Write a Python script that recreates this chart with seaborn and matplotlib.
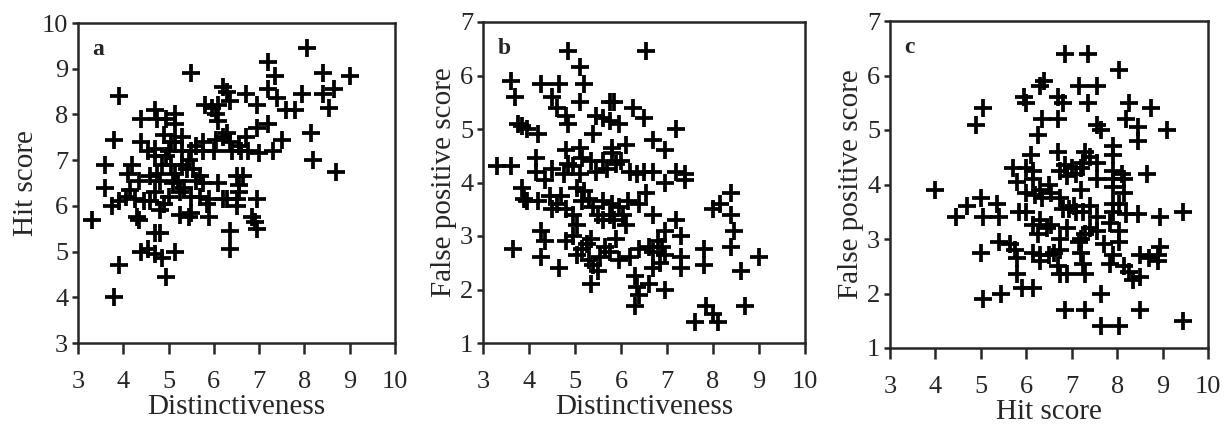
import numpy as np
import pandas as pd
import seaborn as sns
import matplotlib.pyplot as plt

# panel a: distinctiveness vs hit score
a_dist = [3.3, 3.8, 3.9, 3.9, 3.8, 3.6, 3.6, 3.75, 3.9, 4.05, 4.1, 4.2, 4.15, 4.3, 4.35,
          4.4, 4.4, 4.35, 4.45, 4.4, 4.55, 4.7, 4.8, 4.7, 4.85, 4.95, 5.15, 4.7, 4.75, 4.95,
          5.15, 5.15, 4.9, 4.55, 4.7, 4.7, 4.95, 4.85, 5.05, 5.15, 5.3, 5.3, 5.5, 5.6, 5.75,
          5.75, 6.0, 6.05, 6.2, 6.3, 6.35, 6.4, 6.55, 6.7, 6.75, 7.0, 7.3, 4.6, 4.75, 4.8,
          4.7, 4.6, 4.8, 4.9, 5.0, 5.1, 5.2, 5.15, 5.3, 5.4, 5.45, 5.55, 5.6, 5.7, 5.75,
          5.35, 5.25, 5.5, 5.7, 5.9, 5.85, 5.9, 5.25, 5.45, 5.5, 6.1, 6.3, 6.5, 6.55, 6.5,
          6.65, 6.55, 6.5, 6.95, 6.85, 6.9, 6.95, 6.35, 6.35, 5.5, 5.8, 5.95, 6.1, 6.05, 6.1,
          6.2, 6.3, 6.35, 6.7, 6.95, 6.95, 7.2, 7.35, 7.2, 7.2, 7.4, 7.5, 7.6, 7.8, 7.95,
          8.05, 8.15, 8.2, 8.4, 8.4, 8.55, 8.65, 8.7, 9.0, 4.25, 5.0, 6.6, 5.05, 6.2]
a_hit = [5.7, 4.0, 4.7, 8.4, 7.45, 6.9, 6.4, 6.0, 6.1, 6.2, 6.7, 6.9, 6.35, 5.75, 5.7,
         7.9, 7.4, 6.55, 6.1, 5.0, 5.05, 5.4, 5.4, 4.95, 4.85, 4.45, 5.0, 8.1, 7.9, 7.9,
         8.0, 7.8, 7.55, 7.2, 7.25, 7.1, 7.1, 6.9, 7.4, 7.4, 7.5, 7.2, 7.2, 7.3, 7.4,
         7.2, 7.2, 7.45, 7.5, 7.6, 7.4, 7.2, 7.3, 7.5, 7.2, 7.15, 7.2, 6.65, 6.7, 6.55,
         6.3, 6.1, 5.9, 6.05, 6.2, 6.5, 6.55, 6.7, 6.9, 6.8, 7.0, 6.8, 6.55, 6.65, 6.5,
         6.4, 6.3, 6.2, 6.2, 6.15, 6.05, 5.75, 5.8, 5.75, 5.85, 6.5, 6.15, 6.15, 6.3, 6.65,
         6.65, 6.45, 6.0, 6.15, 5.75, 5.65, 5.5, 5.45, 5.05, 8.9, 8.2, 8.15, 8.2, 8.0, 7.85,
         8.6, 8.5, 8.3, 8.45, 8.2, 7.7, 9.15, 8.85, 8.55, 7.8, 8.35, 7.45, 8.1, 8.1, 8.45,
         9.45, 7.6, 7.0, 8.9, 8.45, 8.15, 8.55, 6.75, 8.85, 6.15, 7.2, 7.2, 6.9, 6.15]

# panel b: distinctiveness vs false positive score
b_dist = [3.3, 3.6, 3.6, 3.7, 3.75, 3.85, 3.95, 4.2, 3.65, 3.85, 3.9, 3.95, 4.2, 4.25, 4.15,
          4.15, 4.35, 4.5, 4.5, 4.6, 4.65, 4.8, 4.85, 4.85, 4.25, 4.35, 4.25, 4.65, 4.8, 4.95,
          4.45, 4.5, 4.6, 4.7, 4.8, 4.95, 4.8, 4.85, 4.75, 4.95, 5.1, 5.15, 5.1, 5.05, 5.2,
          5.15, 5.1, 5.2, 5.1, 5.4, 5.35, 5.45, 5.6, 5.7, 5.8, 5.8, 5.9, 6.0, 6.1, 6.2,
          6.35, 6.5, 6.7, 6.55, 6.25, 6.5, 6.7, 6.95, 7.2, 7.2, 7.4, 7.4, 6.95, 5.45, 5.6,
          5.75, 5.85, 5.75, 5.95, 5.3, 5.4, 5.5, 5.6, 5.6, 5.75, 5.8, 5.85, 5.95, 6.05, 6.15,
          6.1, 6.4, 6.55, 6.7, 5.05, 5.05, 5.15, 5.25, 5.35, 5.3, 5.4, 5.5, 5.35, 5.55, 5.65,
          5.75, 5.9, 5.95, 6.2, 6.4, 6.3, 6.35, 6.4, 6.3, 6.6, 6.7, 6.8, 6.9, 6.95, 6.85,
          6.7, 6.6, 6.95, 6.95, 7.2, 7.3, 7.3, 7.3, 7.8, 7.8, 7.85, 8.0, 8.1, 7.6, 8.0,
          8.15, 8.4, 8.4, 8.45, 8.4, 8.6, 8.7, 9.0]
b_fp = [4.3, 4.3, 5.9, 5.6, 5.1, 5.05, 5.0, 4.9, 2.75, 3.9, 3.7, 3.65, 3.65, 5.85, 4.45,
        4.2, 4.05, 4.25, 5.6, 5.4, 5.85, 5.25, 5.1, 6.45, 3.1, 2.9, 2.6, 2.4, 2.9, 3.0,
        3.75, 3.5, 3.6, 3.75, 3.5, 3.4, 4.6, 4.35, 4.15, 4.3, 4.65, 4.45, 4.15, 3.9, 3.85,
        3.65, 6.15, 5.85, 5.5, 4.9, 4.4, 4.2, 4.4, 4.25, 4.55, 4.65, 4.35, 4.4, 4.7, 4.2,
        4.15, 4.2, 4.2, 6.45, 5.4, 5.2, 4.8, 4.6, 5.0, 4.2, 4.15, 4.05, 4.0, 5.25, 5.2,
        5.5, 5.5, 5.15, 5.1, 3.7, 3.55, 3.4, 3.65, 3.3, 3.4, 3.6, 3.3, 3.55, 3.4, 3.65,
        3.2, 3.6, 3.8, 3.4, 3.2, 2.65, 2.75, 2.85, 2.95, 2.55, 2.45, 2.35, 2.1, 2.6, 2.8,
        2.7, 2.95, 2.55, 2.6, 2.75, 2.25, 2.05, 1.9, 1.7, 2.8, 2.7, 2.9, 2.8, 2.65, 2.5,
        2.4, 2.1, 2.0, 3.1, 3.3, 3.0, 2.6, 2.4, 2.75, 2.45, 1.7, 1.55, 1.4, 1.4, 3.5,
        3.6, 3.8, 3.4, 3.1, 2.8, 2.35, 1.7, 2.6]

# panel c: hit score vs false positive score
c_hit = [4.0, 4.45, 4.7, 4.9, 5.05, 5.0, 5.05, 5.0, 5.05, 5.35, 5.4, 5.4, 5.65, 5.45, 5.75,
         5.8, 5.8, 5.9, 6.15, 5.7, 5.8, 5.85, 6.0, 5.95, 6.0, 6.0, 6.0, 6.1, 6.15, 6.15,
         6.2, 6.3, 6.35, 6.15, 6.25, 6.3, 6.15, 6.3, 6.3, 6.5, 6.6, 6.3, 6.4, 6.35, 6.25,
         6.5, 6.55, 6.55, 6.7, 6.8, 6.7, 6.85, 7.35, 7.15, 7.35, 7.55, 7.55, 7.65, 6.7, 6.75,
         6.85, 6.9, 7.0, 7.1, 7.2, 7.3, 7.4, 7.55, 7.55, 6.75, 6.8, 6.95, 7.1, 7.25, 7.4,
         7.2, 6.9, 6.75, 6.75, 6.7, 6.75, 6.9, 7.2, 7.2, 7.25, 7.3, 7.3, 7.4, 7.55, 7.7,
         7.55, 7.9, 7.9, 7.85, 8.05, 7.9, 7.9, 7.9, 7.9, 7.9, 8.1, 8.05, 8.05, 8.15, 8.15,
         8.2, 8.45, 7.9, 7.85, 8.15, 8.25, 8.35, 8.5, 8.5, 8.7, 8.9, 8.95, 8.9, 8.95, 9.45,
         9.1, 8.65, 8.75, 8.45, 8.45, 8.2, 8.25, 8.05, 7.65, 7.65, 8.05, 6.85, 7.3, 8.5, 9.45,
         7.15, 7.25, 6.45, 7.05]
c_fp = [3.9, 3.4, 3.6, 5.1, 5.4, 3.75, 3.4, 2.75, 1.9, 3.65, 3.4, 2.95, 2.9, 2.0, 2.8,
        2.65, 2.35, 2.1, 2.1, 4.3, 4.05, 3.5, 3.5, 5.6, 5.5, 4.3, 3.85, 4.55, 4.25, 4.1,
        3.8, 3.9, 3.75, 3.25, 3.1, 3.35, 2.75, 2.7, 2.6, 2.7, 2.75, 5.8, 5.9, 5.2, 4.9,
        4.0, 3.85, 3.25, 5.6, 5.5, 5.2, 6.4, 6.4, 5.8, 5.5, 5.8, 5.1, 5.0, 4.6, 4.25,
        4.35, 4.15, 4.3, 4.2, 4.3, 4.6, 4.5, 4.4, 4.1, 3.75, 3.55, 3.55, 3.5, 3.5, 3.6,
        3.9, 3.2, 3.0, 2.8, 2.5, 2.35, 2.35, 3.0, 2.75, 2.55, 2.35, 3.1, 3.2, 3.4, 2.9,
        3.15, 3.5, 3.65, 3.3, 3.65, 4.1, 3.95, 4.25, 4.7, 4.55, 4.2, 3.15, 2.95, 3.85, 4.1,
        3.45, 3.45, 2.7, 2.55, 2.5, 2.4, 2.25, 2.3, 2.7, 2.65, 2.7, 2.85, 2.6, 3.4, 3.5,
        5.0, 4.2, 5.4, 5.05, 4.8, 5.2, 5.5, 6.1, 2.0, 1.4, 1.4, 1.7, 1.7, 1.7, 1.5,
        2.95, 4.4, 3.2, 3.6]

sns.set_style("ticks")
plt.rcParams['font.family'] = ['Liberation Serif', 'DejaVu Serif']

fig = plt.figure(figsize=(12.27, 4.26), dpi=100)
W, H = 1227, 426
boxes = [(78, 395, 23, 343), (483, 805, 22, 343), (890, 1208, 21, 348)]
axes = [fig.add_axes([l / W, 1 - b / H, (r - l) / W, (b - t) / H]) for l, r, t, b in boxes]

panels = [
    (a_dist, a_hit, "Distinctiveness", "Hit score", (3, 10), "a"),
    (b_dist, b_fp, "Distinctiveness", "False positive score", (1, 7), "b"),
    (c_hit, c_fp, "Hit score", "False positive score", (1, 7), "c"),
]

for ax, (xs, ys, xl, yl, ylim, tag) in zip(axes, panels):
    df = pd.DataFrame({"x": xs, "y": ys})
    sns.scatterplot(data=df, x="x", y="y", marker="+", s=160, linewidth=2.7,
                    color="black", ax=ax)
    ax.set_xlim(3, 10)
    ax.set_ylim(*ylim)
    ax.set_xticks(range(3, 11))
    ax.set_yticks(range(ylim[0], ylim[1] + 1))
    ax.set_xlabel(xl, fontsize=21, labelpad=1)
    ax.set_ylabel(yl, fontsize=21, labelpad=2)
    ax.tick_params(labelsize=19, direction="out", width=1.8)
    ax.tick_params(axis="x", length=8, pad=12)
    ax.tick_params(axis="y", length=4, pad=3)
    for sp in ax.spines.values():
        sp.set_visible(True)
        sp.set_linewidth(1.8)
    ax.text(0.045, 0.95, tag, transform=ax.transAxes, fontsize=17,
            fontweight="bold", va="top", ha="left")

fig.savefig("out.png", dpi=100)
